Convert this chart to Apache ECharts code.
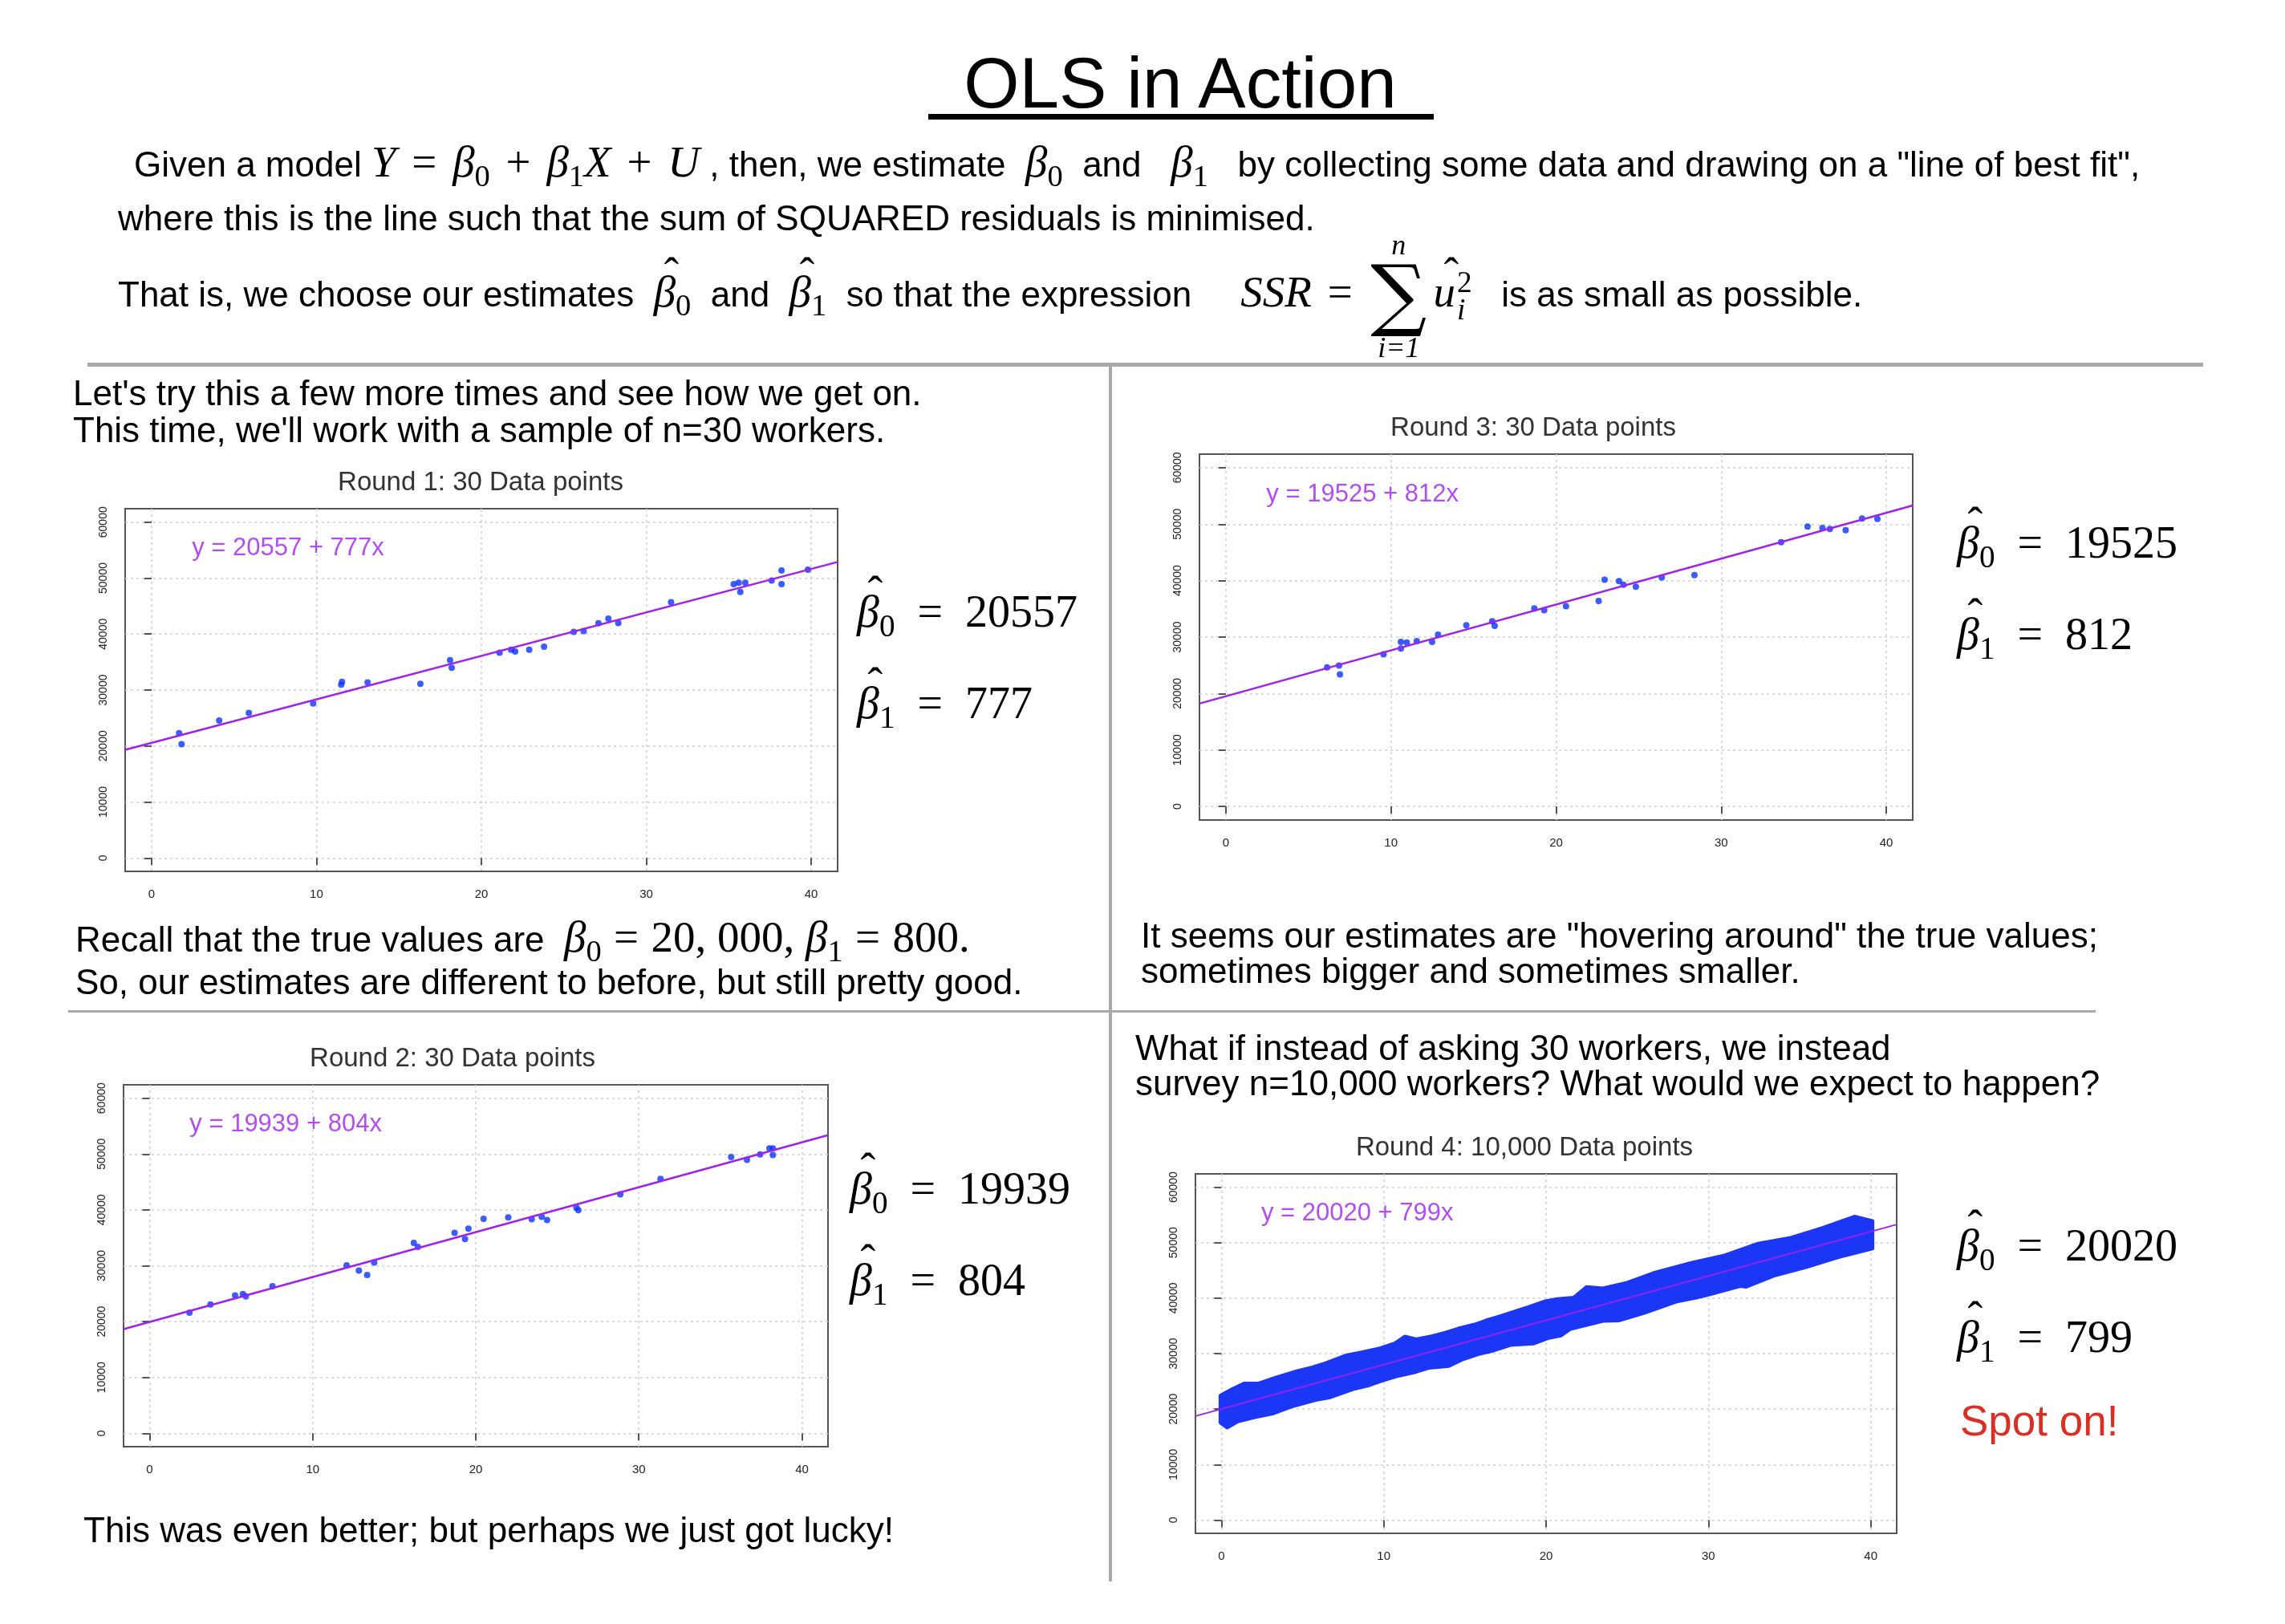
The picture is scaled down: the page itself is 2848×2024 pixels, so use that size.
<!DOCTYPE html>
<html>
<head>
<meta charset="utf-8">
<script src="https://cdn.jsdelivr.net/npm/echarts@6/dist/echarts.min.js"></script>
<style>
  html, body { margin: 0; padding: 0; background: #fff; }
  #page { position: relative; width: 2848px; height: 2024px; overflow: hidden;
          font-family: 'Liberation Sans', Arial, sans-serif; color: #000; }
  #chart { position: absolute; left: 0; top: 0; width: 2848px; height: 2024px; }
  .t { position: absolute; white-space: nowrap; font-size: 44px; line-height: 1.1;
       transform: translateY(-50%); z-index: 2; }
  .m { font-family: 'Liberation Serif', 'DejaVu Serif', serif; font-size: 55px; }
  .m i { font-style: italic; }
  .op { margin: 0 0.36em; }
  .sb { font-size: 0.7em; position: relative; top: 0.3em; font-style: normal; }
  .hat { position: relative; display: inline-block; }
  .hat::before { content: '\02C6'; position: absolute; left: 0.24em; top: -0.42em; font-style: normal; }
  .eq { margin: 0 0.25em; }
  .sum { display: inline-flex; flex-direction: column; align-items: center; vertical-align: middle; line-height: 1; margin: 0 0.15em 0 0.05em; }
  .sum .lim { font-size: 36px; font-style: italic; }
  .sum .sig { font-size: 98px; font-family: 'DejaVu Serif', serif; line-height: 0.88; margin-bottom: 6px; }
  .ss { display: inline-flex; flex-direction: column; vertical-align: middle; line-height: 0.9; font-size: 0.68em; margin-left: 0.05em; }
  .beta { font-family: 'Liberation Serif', 'DejaVu Serif', serif; font-size: 56px; }
  .rule { position: absolute; background: #a9a9a9; z-index: 2; }
</style>
</head>
<body>
<div id="page">
  <div id="chart"></div>

  <div class="t" style="left:1471px;top:104px;font-size:89px;transform:translate(-50%,-50%)">OLS in Action</div>
  <div class="rule" style="left:1157px;top:142px;width:630px;height:7px;background:#000"></div>

  <div class="t" style="left:167px;top:202px">Given a model <span class="m"><i>Y</i><span class="op">=</span><i>β</i><span class="sb">0</span><span class="op">+</span><i>β</i><span class="sb">1</span><i>X</i><span class="op">+</span><i>U</i></span> , then, we estimate &nbsp;<span class="m"><i>β</i><span class="sb">0</span></span> &nbsp;and &nbsp;&nbsp;<span class="m"><i>β</i><span class="sb">1</span></span> &nbsp;&nbsp;by collecting some data and drawing on a "line of best fit",</div>
  <div class="t" style="left:147px;top:272px">where this is the line such that the sum of SQUARED residuals is minimised.</div>
  <div class="t" style="left:147px;top:369px">That is, we choose our estimates &nbsp;<span class="m"><span class="hat"><i>β</i></span><span class="sb">0</span></span> &nbsp;and &nbsp;<span class="m"><span class="hat"><i>β</i></span><span class="sb">1</span></span> &nbsp;so that the expression &nbsp;&nbsp;&nbsp;&nbsp;<span class="m"><i>SSR</i><span class="op">=</span><span class="sum"><span class="lim">n</span><span class="sig">∑</span><span class="lim">i=1</span></span><span class="hat"><i>u</i></span><span class="ss"><span>2</span><span><i>i</i></span></span></span> &nbsp;&nbsp;is as small as possible.</div>

  <div class="rule" style="left:109px;top:452px;width:2637px;height:5px"></div>
  <div class="rule" style="left:1382px;top:454px;width:4px;height:1517px"></div>
  <div class="rule" style="left:85px;top:1259px;width:2527px;height:3px"></div>

  <div class="t" style="left:91px;top:490px">Let's try this a few more times and see how we get on.</div>
  <div class="t" style="left:91px;top:536px">This time, we'll work with a sample of n=30 workers.</div>

  <div class="t" style="left:94px;top:1168px">Recall that the true values are &nbsp;<span class="m"><i>β</i><span class="sb">0</span><span class="op" style="margin:0 0.28em">=</span>20, 000, <i>β</i><span class="sb">1</span><span class="op" style="margin:0 0.28em">=</span>800.</span></div>
  <div class="t" style="left:94px;top:1224px">So, our estimates are different to before, but still pretty good.</div>
  <div class="t" style="left:104px;top:1907px">This was even better; but perhaps we just got lucky!</div>

  <div class="t" style="left:1422px;top:1166px">It seems our estimates are "hovering around" the true values;</div>
  <div class="t" style="left:1422px;top:1210px">sometimes bigger and sometimes smaller.</div>
  <div class="t" style="left:1415px;top:1306px">What if instead of asking 30 workers, we instead</div>
  <div class="t" style="left:1415px;top:1350px">survey n=10,000 workers? What would we expect to happen?</div>

  <div class="t" style="left:2443px;top:1771px;font-size:53px;color:#d93025">Spot on!</div>
  <div id="betas"></div>
</div>

<script>
// sample data
var r1X = [1.67, 1.82, 4.1, 5.9, 9.8, 11.5, 11.55, 13.1, 16.3, 18.1, 18.2, 21.1, 21.8, 22.05, 22.9, 23.8, 25.6, 26.2, 27.1, 27.7, 28.3, 31.5, 35.3, 35.6, 35.7, 36.0, 37.6, 38.2, 38.2, 39.8];
var r1Y = [22290, 20320, 24550, 25920, 27590, 30980, 31470, 31370, 31120, 35350, 33970, 36670, 37210, 36870, 37210, 37750, 40400, 40550, 41920, 42760, 41970, 45700, 48940, 49190, 47520, 49190, 49580, 51350, 48940, 51500];

var r2X = [2.44, 3.73, 5.24, 5.72, 5.9, 7.53, 12.08, 12.83, 13.34, 13.77, 16.2, 16.45, 18.7, 19.34, 19.55, 20.48, 21.99, 23.43, 24.04, 24.37, 26.17, 26.29, 28.86, 31.33, 35.66, 36.63, 37.44, 38.01, 38.22, 38.22];
var r2Y = [21590, 23080, 24680, 24940, 24520, 26320, 30080, 29150, 28330, 30590, 34090, 33370, 35890, 34760, 36660, 38410, 38660, 38350, 38770, 38200, 40410, 39950, 42780, 45550, 49460, 48950, 49920, 51000, 51000, 49820];

var r3X = [6.13, 6.85, 6.91, 9.55, 10.6, 10.6, 10.96, 11.56, 12.49, 12.85, 14.56, 16.13, 16.28, 18.68, 19.28, 20.6, 22.58, 22.94, 23.81, 24.08, 24.83, 26.4, 28.38, 33.63, 35.23, 36.13, 36.58, 37.54, 38.53, 39.46];
var r3Y = [24620, 24970, 23400, 26950, 27970, 29140, 29040, 29290, 29140, 30410, 32080, 32790, 31980, 35080, 34770, 35480, 36400, 40150, 39900, 39290, 38930, 40560, 40970, 46800, 49590, 49340, 49140, 48930, 51010, 50910];

// round 4 has 10,000 points: drawn as the band they form (upper / lower edges)
var r4UpperX = [-0.05, 0.7, 1.4, 2.3, 3.0, 3.8, 4.6, 5.6, 6.4, 7.7, 8.7, 9.7, 10.7, 11.3, 12.0, 13.0, 13.8, 14.6, 15.6, 16.3, 17.1, 17.9, 18.9, 19.9, 20.7, 21.7, 22.5, 23.5, 25.0, 26.6, 29.0, 31.0, 33.0, 35.0, 37.0, 39.0, 40.1];
var r4UpperY = [22400, 23610, 24580, 24580, 25300, 26030, 26750, 27480, 28200, 29650, 30230, 30860, 31830, 33030, 32550, 33130, 33750, 34480, 35200, 35930, 36650, 37380, 38350, 39360, 39800, 40040, 41970, 41720, 42750, 44460, 46370, 47670, 49740, 50780, 52590, 54660, 53890];
var r4LowerX = [-0.05, 0.36, 1.0, 2.0, 3.2, 4.3, 5.8, 6.7, 8.1, 9.1, 9.8, 10.9, 12.0, 12.8, 14.0, 14.8, 15.8, 16.8, 17.8, 19.2, 20.1, 20.9, 21.5, 22.5, 23.5, 24.5, 26.0, 28.0, 29.3, 30.0, 32.0, 32.3, 34.0, 36.0, 38.0, 40.1];
var r4LowerY = [17580, 16710, 17810, 18540, 19260, 20480, 21680, 22160, 23610, 24330, 25060, 26030, 26750, 27480, 27810, 28930, 29900, 30620, 31580, 31830, 32800, 33280, 34480, 35200, 35930, 36010, 37310, 39380, 40150, 40670, 42230, 42070, 44040, 45600, 47410, 48960];

var roundTitles = ['Round 1: 30 Data points', 'Round 2: 30 Data points', 'Round 3: 30 Data points', 'Round 4: 10,000 Data points'];
var intercepts = [20557, 19939, 19525, 20020];
var slopes = [777, 804, 812, 799];

var xTicks = [0, 10, 20, 30, 40];
var yTicks = [0, 10000, 20000, 30000, 40000, 50000, 60000];
var xLim = [-1.6, 41.6];
var yLim = [-2400, 62400];

var panels = [
  { left: 156, top: 634, width: 888, height: 452, titleX: 599, betaX: 1068, betaY: 763 },
  { left: 154, top: 1352, width: 878, height: 451, titleX: 564, betaX: 1059, betaY: 1482 },
  { left: 1495, top: 566, width: 889, height: 456, titleX: 1911, betaX: 2439, betaY: 677 },
  { left: 1490, top: 1463, width: 874, height: 448, titleX: 1900, betaX: 2439, betaY: 1553 }
];

var pointColor = '#0a33ff';
var bandColor = '#1b36f5';
var fitColor = '#a020f0';

function zip(xs, ys) {
  return xs.map(function (x, i) { return [x, ys[i]]; });
}

var samples = [zip(r1X, r1Y), zip(r2X, r2Y), zip(r3X, r3Y)];
var bandPoly = zip(r4UpperX, r4UpperY).concat(zip(r4LowerX, r4LowerY).reverse());

var grids = [], xAxes = [], yAxes = [], series = [], graphics = [];

panels.forEach(function (p, i) {
  grids.push({
    left: p.left, top: p.top, width: p.width, height: p.height,
    show: true, borderColor: '#555', borderWidth: 2, backgroundColor: 'transparent'
  });
  xAxes.push({
    gridIndex: i, type: 'value', min: xLim[0], max: xLim[1],
    axisLine: { show: false },
    axisTick: { show: true, customValues: xTicks, length: 9, lineStyle: { color: '#555', width: 2 } },
    axisLabel: {
      customValues: xTicks, margin: 21, fontSize: 15, color: '#222', fontFamily: 'Liberation Sans',
      formatter: function (v) { return String(v); }
    },
    splitLine: { show: true, lineStyle: { color: '#d0d0d0', width: 1.5, type: [3, 4] } }
  });
  yAxes.push({
    gridIndex: i, type: 'value', min: yLim[0], max: yLim[1],
    axisLine: { show: false },
    axisTick: { show: true, customValues: yTicks, length: 9, lineStyle: { color: '#555', width: 2 } },
    axisLabel: {
      customValues: yTicks, rotate: 90, margin: 20, fontSize: 14, color: '#222', fontFamily: 'Liberation Sans',
      formatter: function (v) { return String(v); }
    },
    splitLine: { show: true, lineStyle: { color: '#d0d0d0', width: 1.5, type: [3, 4] } }
  });

  if (i < 3) {
    series.push({
      type: 'scatter', xAxisIndex: i, yAxisIndex: i, data: samples[i],
      symbolSize: 8, itemStyle: { color: pointColor }, z: 2
    });
  } else {
    series.push({
      type: 'custom', xAxisIndex: i, yAxisIndex: i, data: bandPoly, clip: true, z: 2,
      renderItem: function (params, api) {
        if (params.dataIndex !== 0) return;
        var pts = bandPoly.map(function (d) { return api.coord(d); });
        return {
          type: 'polygon', shape: { points: pts },
          style: { fill: bandColor, stroke: bandColor, lineWidth: 5, lineJoin: 'round' }
        };
      }
    });
  }

  series.push({
    type: 'line', xAxisIndex: i, yAxisIndex: i, symbol: 'none', z: 3, clip: true,
    data: [[xLim[0], intercepts[i] + slopes[i] * xLim[0]], [xLim[1], intercepts[i] + slopes[i] * xLim[1]]],
    lineStyle: { color: fitColor, width: i < 3 ? 2.5 : 1.8 }
  });

  series.push({
    type: 'scatter', xAxisIndex: i, yAxisIndex: i, symbolSize: 0, z: 4, silent: true,
    data: [[2.45, 55300]],
    label: {
      show: true, position: 'right', distance: 0, fontSize: 31, color: fitColor,
      fontFamily: 'Liberation Sans',
      formatter: 'y = ' + intercepts[i] + ' + ' + slopes[i] + 'x'
    }
  });

  graphics.push({
    type: 'text', x: p.titleX, y: p.top - 32,
    style: {
      text: roundTitles[i], fontSize: 33, fill: '#333', fontFamily: 'Liberation Sans',
      textAlign: 'center', textVerticalAlign: 'middle'
    }
  });
});

var chart = echarts.init(document.getElementById('chart'), null, { renderer: 'canvas' });
chart.setOption({
  animation: false,
  backgroundColor: '#fff',
  grid: grids,
  xAxis: xAxes,
  yAxis: yAxes,
  series: series,
  graphic: graphics
});

// beta-hat annotations next to each panel
var html = '';
panels.forEach(function (p, i) {
  html += '<div class="t beta" style="left:' + p.betaX + 'px;top:' + p.betaY + 'px">' +
    '<span class="hat"><i>β</i></span><span class="sb">0</span><span class="eq"> = </span>' + intercepts[i] + '</div>';
  html += '<div class="t beta" style="left:' + p.betaX + 'px;top:' + (p.betaY + 114) + 'px">' +
    '<span class="hat"><i>β</i></span><span class="sb">1</span><span class="eq"> = </span>' + slopes[i] + '</div>';
});
document.getElementById('betas').innerHTML = html;
</script>
</body>
</html>
